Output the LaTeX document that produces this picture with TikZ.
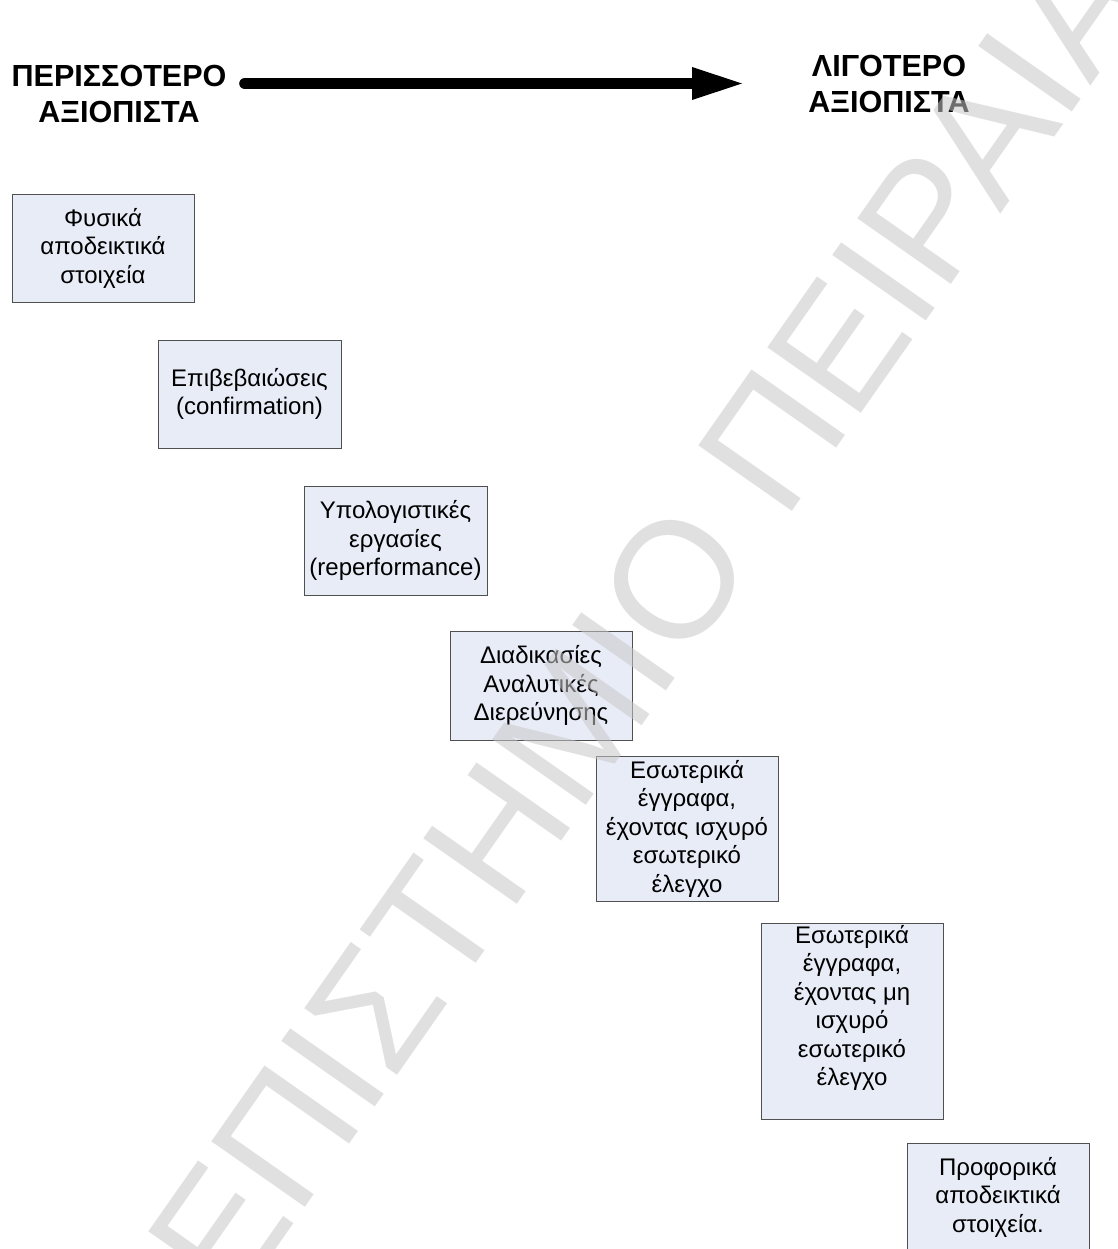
\documentclass[tikz,border=0pt]{standalone}
\usepackage{fontspec}
\setmainfont{Liberation Sans}
\usetikzlibrary{arrows.meta}
\definecolor{boxfill}{RGB}{232,236,247}
\definecolor{boxline}{RGB}{80,80,80}
\definecolor{markgray}{RGB}{200,200,200}
\newcommand\cardfont{\fontsize{18pt}{21.4pt}\selectfont}
\newcommand\headingfont{\fontsize{22.9pt}{27.5pt}\selectfont\bfseries}
\tikzset{
  stepbox/.style={draw=boxline, line width=0.75pt, fill=boxfill,
    minimum width=136.5pt, inner sep=0pt, align=center, font=\cardfont},
  boxlabel/.style={align=center, inner sep=0pt, font=\cardfont},
  heading/.style={align=center, inner sep=0pt, font=\headingfont},
  watermark/.style={anchor=base west, rotate=55, inner sep=0pt,
    text=markgray, text opacity=0.55,
    font=\fontsize{124.5pt}{130pt}\selectfont},
}
\begin{document}
\begin{tikzpicture}[x=0.75pt,y=-0.75pt]
\useasboundingbox (0,0) rectangle (1117,1249);
\clip (0,0) rectangle (1117,1249);
\fill[white] (0,0) rectangle (1117,1249);

% headings and the reliability arrow
\node[heading] (more) at (119,94) {ΠΕΡΙΣΣΟΤΕΡΟ\\ΑΞΙΟΠΙΣΤΑ};
\node[heading] (less) at (889,84) {ΛΙΓΟΤΕΡΟ\\ΑΞΙΟΠΙΣΤΑ};
\coordinate (arrowstart) at (245,83.5);
\coordinate (arrowend) at (742,83.5);
\draw[line width=8.7pt, line cap=round,
  -{Triangle[length=37.5pt,width=24.75pt,line width=0pt]}]
  (arrowstart) -- (arrowend);

% evidence types, from most to least reliable
\node[stepbox, minimum height=81pt] (b1) at (103,248)
  {Φυσικά\\αποδεικτικά\\στοιχεία};
\node[stepbox, minimum width=137.25pt, minimum height=81pt] (b2) at (249.5,394)
  {Επιβεβαιώσεις\\(confirmation)};
\node[stepbox, minimum width=137.25pt, minimum height=81.75pt] (b3) at (395.5,540.5)
  {Υπολογιστικές\\εργασίες\\(reperformance)};
\node[stepbox, minimum height=81.75pt] (b4) at (541,685.5)
  {Διαδικασίες\\Αναλυτικές\\Διερεύνησης};
\node[stepbox, minimum height=108.75pt] (b5) at (687,828.5)
  {Εσωτερικά\\έγγραφα,\\έχοντας ισχυρό\\εσωτερικό\\έλεγχο};
\node[stepbox, minimum height=147pt] (b6) at (852,1021) {};
\node[boxlabel] (b6text) at (852,1008)
  {Εσωτερικά\\έγγραφα,\\έχοντας μη\\ισχυρό\\εσωτερικό\\έλεγχο};
\node[stepbox, minimum height=81pt] (b7) at (998,1197)
  {Προφορικά\\αποδεικτικά\\στοιχεία.};

% translucent watermark across the page
\node[watermark] (mark) at (234,1309) {ΕΠΙΣΤΗΜΙΟ ΠΕΙΡΑΙΑ};
\end{tikzpicture}
\end{document}
